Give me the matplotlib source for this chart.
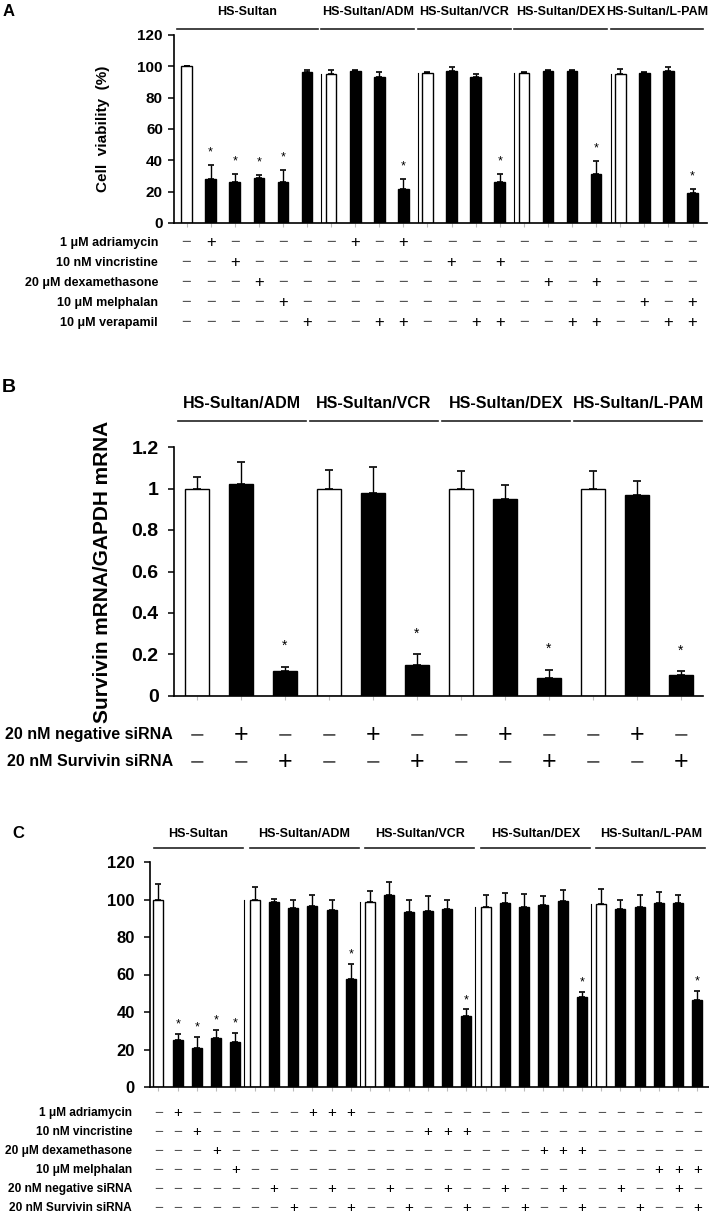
import numpy as np
import matplotlib
matplotlib.use('Agg')
import matplotlib.pyplot as plt
from matplotlib.transforms import blended_transform_factory
from matplotlib.ticker import FuncFormatter

plt.rcParams['font.family'] = ['Liberation Sans', 'DejaVu Sans']

# ---------------- data ----------------
# Panel A: cell viability with verapamil
a_groups = ['HS-Sultan', 'HS-Sultan/ADM', 'HS-Sultan/VCR', 'HS-Sultan/DEX', 'HS-Sultan/L-PAM']
a_sizes = [6, 4, 4, 4, 4]
a_values = [100, 28, 26, 28.5, 26, 96.5,
            95, 97, 93.5, 22,
            95.5, 97, 93, 26,
            96, 97, 97, 31,
            95, 96, 97, 19]
a_errors = [0.5, 9, 5, 2, 8, 1,
            2.5, 0.6, 3, 6,
            1, 2.5, 2, 5,
            0.5, 0.7, 0.8, 8.5,
            3, 0.5, 2.3, 2.5]
a_controls = [0, 6, 10, 14, 18]
a_stars = [1, 2, 3, 4, 9, 13, 17, 21]
a_row_labels = ['1 μM adriamycin', '10 nM vincristine', '20 μM dexamethasone',
                '10 μM melphalan', '10 μM verapamil']
a_row_signs = ['-+-----+-+------------',
               '--+--------+-+--------',
               '---+-----------+-+----',
               '----+--------------+-+',
               '-----+--++--++--++--++']

# Panel B: survivin mRNA
b_groups = ['HS-Sultan/ADM', 'HS-Sultan/VCR', 'HS-Sultan/DEX', 'HS-Sultan/L-PAM']
b_sizes = [3, 3, 3, 3]
b_values = [1.00, 1.02, 0.12, 1.00, 0.98, 0.15, 1.00, 0.95, 0.085, 1.00, 0.97, 0.10]
b_errors = [0.055, 0.11, 0.02, 0.09, 0.125, 0.05, 0.085, 0.065, 0.042, 0.085, 0.065, 0.02]
b_controls = [0, 3, 6, 9]
b_stars = [2, 5, 8, 11]
b_row_labels = ['20 nM negative siRNA', '20 nM Survivin siRNA']
b_row_signs = ['-+--+--+--+-',
               '--+--+--+--+']

# Panel C: cell viability with siRNA
c_groups = ['HS-Sultan', 'HS-Sultan/ADM', 'HS-Sultan/VCR', 'HS-Sultan/DEX', 'HS-Sultan/L-PAM']
c_sizes = [5, 6, 6, 6, 6]
c_values = [100, 25, 21, 26, 24,
            100, 98.5, 95.5, 96.5, 94.5, 57.5,
            98.5, 102.5, 93.5, 94, 95, 38,
            96, 98, 96, 97, 99, 48,
            97.5, 94.8, 96.2, 98.3, 98.3, 46.4]
c_errors = [8.5, 3.5, 5.5, 4.5, 5,
            6.5, 2, 4.2, 6, 5, 8.3,
            6, 7, 6.2, 8, 5, 3.4,
            6.2, 5.3, 7.1, 5, 5.9, 2.7,
            8, 5, 6.2, 5.9, 4.1, 4.8]
c_controls = [0, 5, 11, 17, 23]
c_stars = [1, 2, 3, 4, 10, 16, 22, 28]
c_row_labels = ['1 μM adriamycin', '10 nM vincristine', '20 μM dexamethasone',
                '10 μM melphalan', '20 nM negative siRNA', '20 nM Survivin siRNA']
c_row_signs = ['-+------+++------------------',
               '--+-----------+++------------',
               '---+----------------+++------',
               '----+---------------------+++',
               '------+--+--+--+--+--+--+--+-',
               '-------+--+--+--+--+--+--+--+']

W, H = 709, 1216
fig = plt.figure(figsize=(W / 100, H / 100), dpi=100)


def fx(px):
    return px / W


def fy(py):
    return 1 - py / H


def panel(box, values, errors, controls, stars, xlim, width, ylim, yticks,
          cap, star_off, star_fs, tick_fs, pad):
    left, right, top, bottom = box
    ax = fig.add_axes([fx(left), fy(bottom), fx(right - left), (bottom - top) / H])
    x = np.arange(len(values))
    colors = ['white' if i in controls else 'black' for i in x]
    ax.bar(x, values, width, color=colors, edgecolor='black', linewidth=1, zorder=2)
    ax.errorbar(x, values, yerr=[np.zeros(len(values)), errors], fmt='none',
                ecolor='black', elinewidth=1, capsize=cap, capthick=1.2, zorder=3)
    for i in stars:
        ax.text(i, values[i] + errors[i] + star_off, '*', ha='center', va='center',
                fontsize=star_fs)
    ax.set_xlim(*xlim)
    ax.set_ylim(*ylim)
    ax.set_yticks(yticks)
    ax.yaxis.set_major_formatter(FuncFormatter(lambda v, p: '%g' % v))
    ax.set_xticks(x)
    ax.set_xticklabels([])
    ax.tick_params(axis='x', length=3, width=0.8, color='#bbbbbb', direction='out')
    ax.tick_params(axis='y', length=4, width=1.1, direction='out', labelsize=tick_fs, pad=pad)
    for lab in ax.get_yticklabels():
        lab.set_fontweight('bold')
    for s in ['top', 'right']:
        ax.spines[s].set_visible(False)
    for s in ['left', 'bottom']:
        ax.spines[s].set_linewidth(1.2)
    return ax


def separators(ax, sizes, values, shift):
    # thin divider just left of each group's control bar
    start = sizes[0]
    for s in sizes[1:]:
        ax.plot([start - shift] * 2, [0, values[start]], color='black', lw=0.8, zorder=1)
        start += s


def headers(ax, groups, sizes, text_y, line_y, fs, l0, l1):
    tr = blended_transform_factory(ax.transData, fig.transFigure)
    start = 0
    for g, s in zip(groups, sizes):
        a, b = start - l0, start + s - 1 + l1
        ax.plot([a, b], [fy(line_y)] * 2, transform=tr, color='#222222', lw=1.2, clip_on=False)
        ax.text((a + b) / 2, fy(text_y), g, transform=tr, ha='center', va='center',
                fontsize=fs, fontweight='bold')
        start += s


def rows(ax, labels, signs, ys, label_x, label_fs, sign_fs):
    tr = blended_transform_factory(ax.transData, fig.transFigure)
    for lab, sg, yp in zip(labels, signs, ys):
        fig.text(fx(label_x), fy(yp), lab, ha='right', va='center',
                 fontsize=label_fs, fontweight='bold')
        for i, ch in enumerate(sg):
            ax.text(i, fy(yp), '+' if ch == '+' else '\u2212', transform=tr,
                    ha='center', va='center', fontsize=sign_fs,
                    color='black' if ch == '+' else '#555555')


# ---------------- panel A ----------------
axA = panel((174, 707, 35, 223), a_values, a_errors, a_controls, a_stars,
            (-0.52, 21.6), 0.44, (0, 120), range(0, 121, 20), 2, 8, 9, 11, 4)
axA.set_ylabel('Cell  viability  (%)', fontsize=11, fontweight='bold')
axA.yaxis.set_label_coords(-0.12, 0.5)
separators(axA, a_sizes, a_values, 0.4)
headers(axA, a_groups, a_sizes, 12, 29, 9, 0.4, 0.45)
rows(axA, a_row_labels, a_row_signs, [243, 263, 283, 303, 323], 158, 9, 12)
fig.text(fx(3), fy(11), 'A', fontsize=12, fontweight='bold', va='center')

# ---------------- panel B ----------------
axB = panel((174, 703, 447, 696), b_values, b_errors, b_controls, b_stars,
            (-0.52, 11.5), 0.53, (0, 1.2), np.arange(0, 1.21, 0.2), 3, 0.1, 10, 14, 7)
axB.set_ylabel('Survivin mRNA/GAPDH mRNA', fontsize=15, fontweight='bold')
axB.yaxis.set_label_coords(-0.117, 0.5)
headers(axB, b_groups, b_sizes, 403, 421, 11.5, 0.42, 0.47)
rows(axB, b_row_labels, b_row_signs, [735, 762], 173, 11.5, 18)
fig.text(fx(2), fy(388), 'B', fontsize=14, fontweight='bold', va='center')

# ---------------- panel C ----------------
axC = panel((150, 709, 862, 1087), c_values, c_errors, c_controls, c_stars,
            (-0.44, 28.6), 0.52, (0, 120), range(0, 121, 20), 2, 5, 9, 12, 7)
separators(axC, c_sizes, c_values, 0.55)
headers(axC, c_groups, c_sizes, 834, 848, 9, 0.25, 0.4)
rows(axC, c_row_labels, c_row_signs, [1113, 1132, 1151, 1170, 1189, 1208], 132, 8.6, 11)
fig.text(fx(12), fy(833), 'C', fontsize=12, fontweight='bold', va='center')

fig.savefig('out.png', dpi=100)
